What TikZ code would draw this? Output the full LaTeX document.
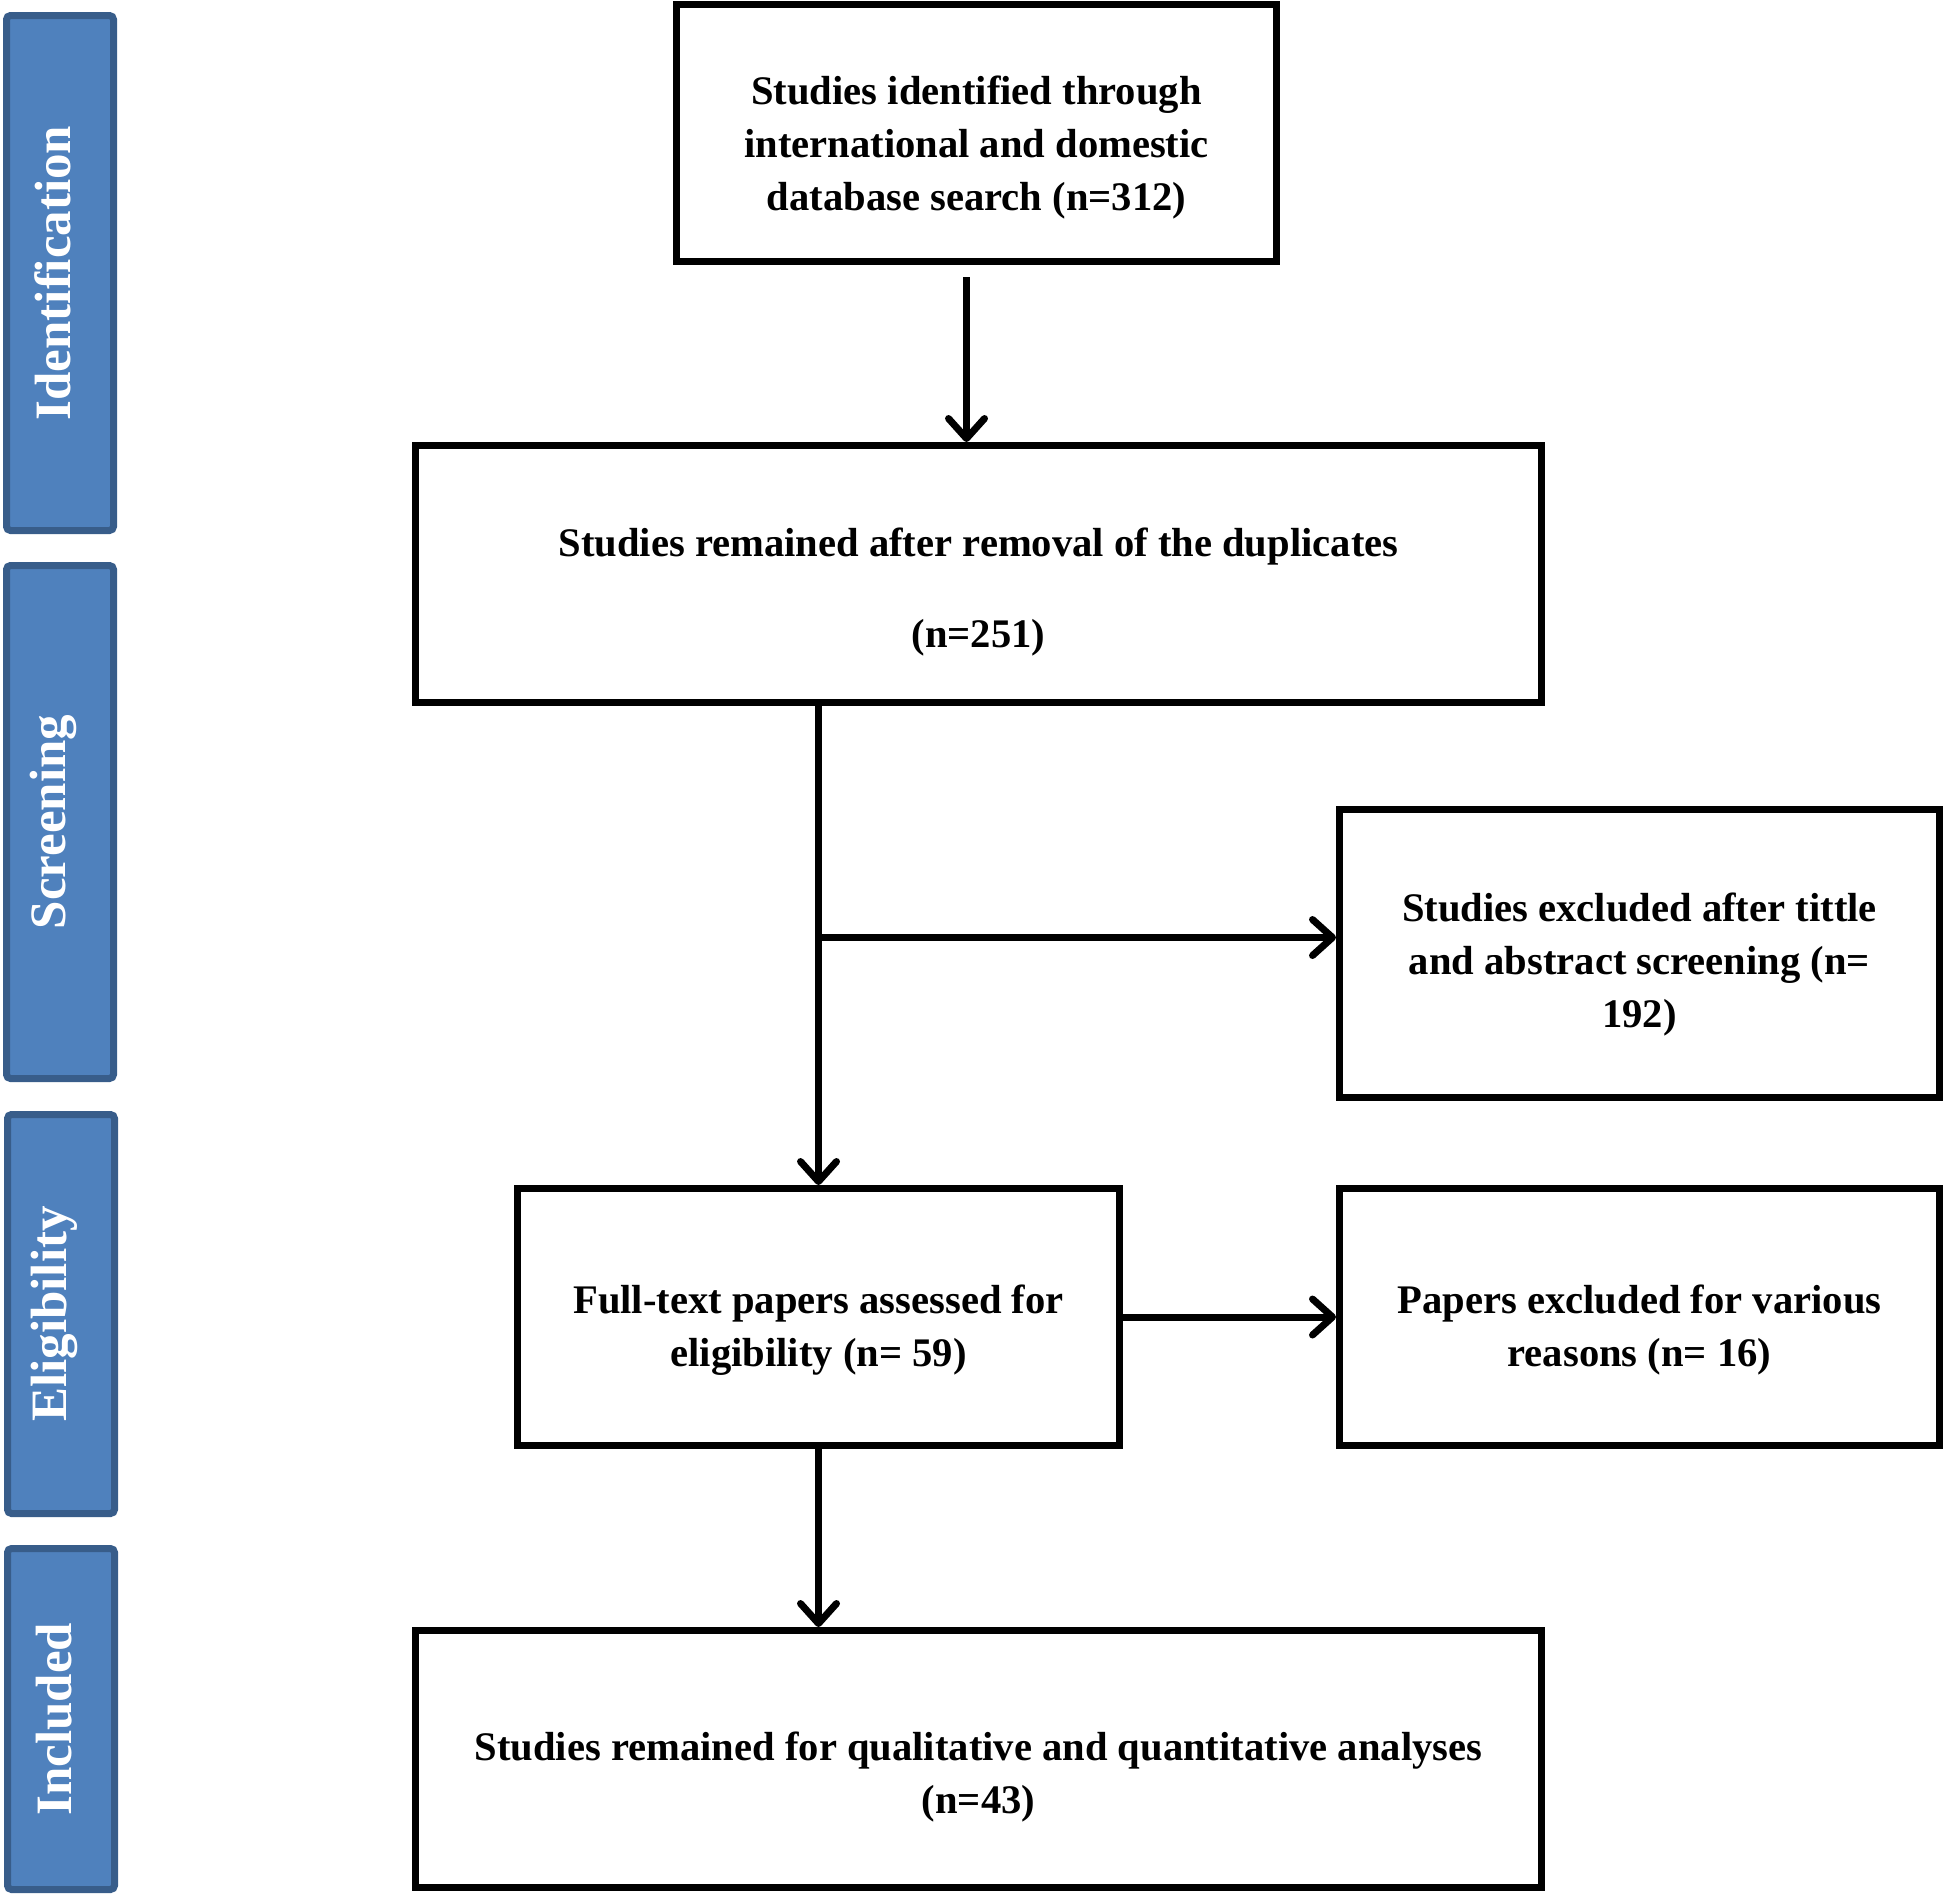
\documentclass[tikz,border=0pt]{standalone}
\usepackage{fontspec}
\setmainfont{Liberation Serif}
\usetikzlibrary{arrows.meta}
\definecolor{barfill}{RGB}{79,129,189}
\definecolor{barline}{RGB}{56,93,138}
\newcommand{\boxtext}[2]{\raisebox{-#1}[0pt][0pt]{\begin{tabular}{c}#2\end{tabular}}}
\begin{document}
\begin{tikzpicture}[x=1pt,y=-1pt,
  box/.style={draw=black, line width=7pt, fill=white, align=center,
    font=\fontsize{40.6}{53}\selectfont\bfseries, inner sep=0pt},
  bar/.style={draw=barline, fill=barfill, line width=7pt, rounded corners=4pt,
    text=white, font=\fontsize{51}{60}\selectfont\bfseries, inner sep=0pt},
  bartext/.style={text=white, font=\fontsize{51}{60}\selectfont\bfseries, inner sep=0pt, rotate=90},
  arr/.style={line width=7pt, -{Straight Barb[length=20pt,width=36pt,round]}}]
\useasboundingbox (0,0) rectangle (1946,1896);

% side bars
\node[bar, minimum width=107pt, minimum height=515pt] (p1) at (60,273) {};
\node[bar, minimum width=107pt, minimum height=513pt] (p2) at (60,822) {};
\node[bar, minimum width=107pt, minimum height=399pt] (p3) at (61,1314) {};
\node[bar, minimum width=107pt, minimum height=341pt] (p4) at (61,1719) {};
\node[bartext] (t1) at ([xshift=-7pt]p1.center) {Identification};
\node[bartext] (t2) at ([xshift=-7pt]p2.center) {Screening};
\node[bartext] (t3) at ([xshift=-7pt]p3.center) {Eligibility};
\node[bartext] (t4) at ([xshift=-7pt]p4.center) {Included};

% boxes
\node[box, minimum width=600pt, minimum height=257pt] (b1) at (976.5,133)
  {\boxtext{20pt}{Studies identified through\\international and domestic\\database search (n=312)}};
\node[box, minimum width=1126pt, minimum height=257pt] (b2) at (978.5,574)
  {\boxtext{23.5pt}{Studies remained after removal of the duplicates\\[38pt](n=251)}};
\node[box, minimum width=600pt, minimum height=288pt] (b3) at (1639.5,953.5)
  {\boxtext{17pt}{Studies excluded after tittle\\and abstract screening (n=\\192)}};
\node[box, minimum width=602pt, minimum height=257pt] (b4) at (818.5,1317)
  {\boxtext{18.5pt}{Full-text papers assessed for\\eligibility (n= 59)}};
\node[box, minimum width=600pt, minimum height=257pt] (b5) at (1639.5,1317)
  {\boxtext{18.5pt}{Papers excluded for various\\reasons (n= 16)}};
\node[box, minimum width=1126pt, minimum height=257pt] (b6) at (978.5,1759)
  {\boxtext{23.5pt}{Studies remained for qualitative and quantitative analyses\\(n=43)}};

% connectors
\draw[arr] ([xshift=-10pt,yshift=-12pt]b1.south) -- ([xshift=-10pt]b1.south |- b2.north);
\draw[arr] (b2.south -| b4.north) -- (b4.north);
\draw[arr] ([yshift=16pt]b3.west -| b4.north) -- ([yshift=16pt]b3.west);
\draw[arr] (b4.east) -- (b5.west);
\draw[arr] (b4.south) -- (b4.south |- b6.north);
\end{tikzpicture}
\end{document}
